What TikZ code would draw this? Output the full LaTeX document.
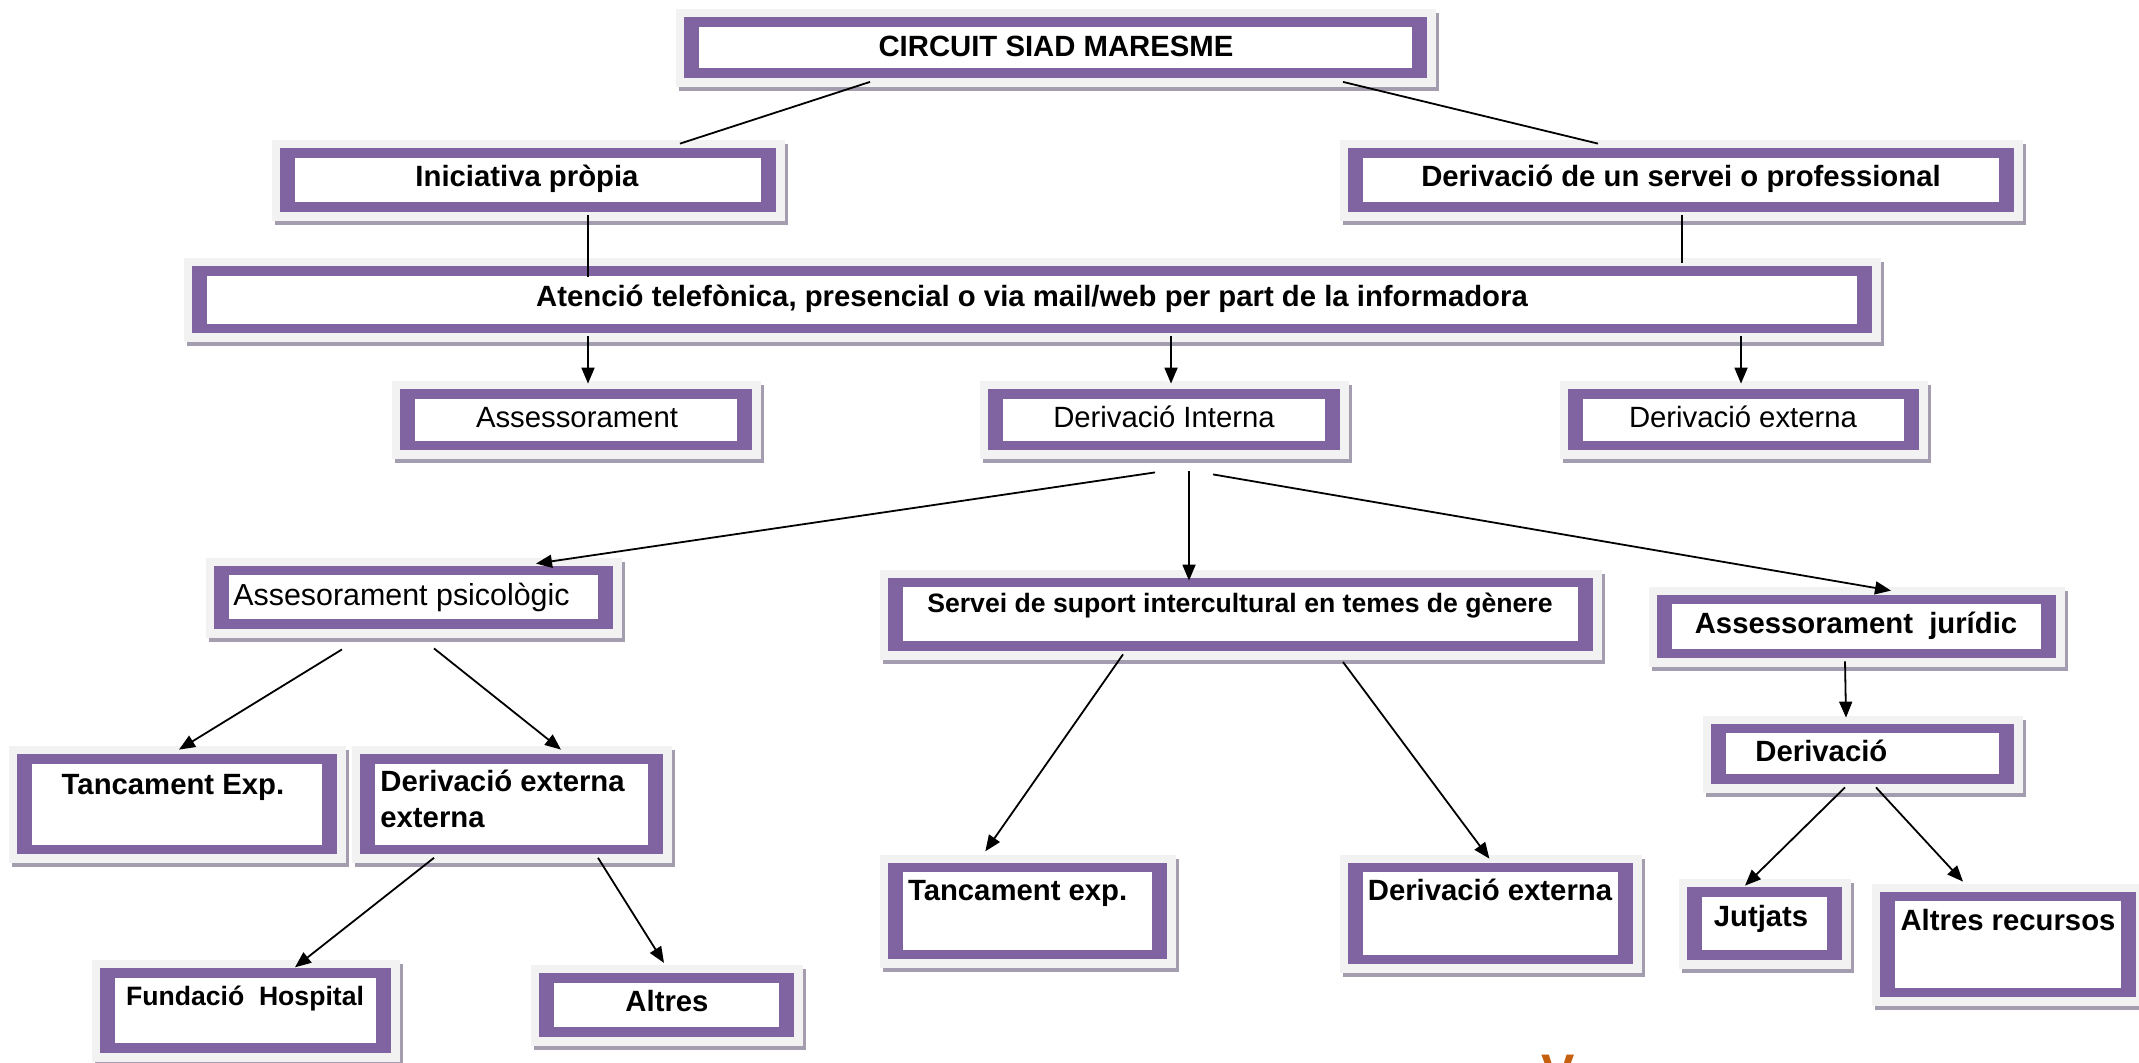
\documentclass[tikz,border=0pt]{standalone}
\usepackage{fontspec}
\setmainfont{Liberation Sans}
\usetikzlibrary{calc,fit,arrows.meta}
\definecolor{boxpurple}{HTML}{8064A2}
\definecolor{boxlight}{HTML}{F2F2F2}
\definecolor{boxshadow}{HTML}{A39DAF}
\definecolor{vorange}{HTML}{C4600F}
\newcommand\purplebox[5]{%
  \fill[boxshadow] ({#2-5},{#3-4}) rectangle ({#4+12},{#5+13});
  \fill[boxlight] ({#2-8},{#3-8}) rectangle ({#4+9},{#5+9});
  \fill[boxpurple] (#2,#3) rectangle (#4,#5);
  \fill[white] ({#2+15},{#3+9.5}) rectangle ({#4-15},{#5-9.5});
  \node[fit={(#2,#3) (#4,#5)}, inner sep=0pt] (#1) {};
}
\tikzset{
  lbl/.style={anchor=base, inner sep=0pt, font=\bfseries\fontsize{14.65}{17.6}\selectfont},
  lblr/.style={anchor=base, inner sep=0pt, font=\fontsize{14.65}{17.6}\selectfont},
  lbls/.style={anchor=base, inner sep=0pt, font=\bfseries\fontsize{13.3}{16}\selectfont},
  conn/.style={line width=0.9pt, black},
  arr/.style={conn, -{Triangle[length=8pt,width=6.5pt]}}
}
\begin{document}
\begin{tikzpicture}[x=0.5pt,y=-0.5pt]
\useasboundingbox (0,0) rectangle (2139,1062);
\clip (0,0) rectangle (2139,1062);
% boxes
\purplebox{circ}{684}{17}{1427}{77.5}
\purplebox{ini}{280}{148}{776}{211.5}
\purplebox{der}{1348}{148}{2014}{211.5}
\purplebox{aten}{192}{266}{1872}{333}
\purplebox{asse}{400}{389}{752}{450}
\purplebox{dint}{988}{389}{1340}{450}
\purplebox{dext}{1568}{389}{1919}{450}
\purplebox{psic}{214}{565.6}{613}{628.7}
\purplebox{serv}{888}{577.5}{1593}{650.5}
\purplebox{jur}{1657}{594.5}{2056}{658}
\purplebox{derj}{1711}{723.7}{2014}{783.8}
\purplebox{tanc1}{17}{754}{337}{854}
\purplebox{dee}{360}{754}{663}{854}
\purplebox{tanc2}{888}{862.5}{1166.6}{959}
\purplebox{dext2}{1348}{862.5}{1632.7}{964.4}
\purplebox{jut}{1687}{887}{1842}{959.6}
\purplebox{altr}{1880}{891.7}{2136}{997}
\purplebox{fund}{100}{968}{391}{1052.5}
\purplebox{alt}{539}{973}{794}{1036.6}
% texts
\node[lbl] (circ-t) at (1056,56.5) {CIRCUIT SIAD MARESME};
\node[lbl] (ini-t) at (527,186.5) {Iniciativa pròpia};
\node[lbl] (der-t) at (1681,186.5) {Derivació de un servei o professional};
\node[lbl] (aten-t) at (1032,306) {Atenció telefònica, presencial o via mail/web per part de la informadora};
\node[lblr] (asse-t) at (577,427.5) {Assessorament};
\node[lblr] (dint-t) at (1164,427.5) {Derivació Interna};
\node[lblr] (dext-t) at (1743,427.5) {Derivació externa};
\node[lblr, anchor=base west, font=\fontsize{15.2}{18}\selectfont] (psic-t) at (233,605.5) {Assesorament psicològic};
\node[lbls] (serv-t) at (1240,612.5) {Servei de suport intercultural en temes de gènere};
\node[lbl] (jur-t) at (1856,633.5) {Assessorament~~jurídic};
\node[lbl, anchor=base west] (derj-t) at (1755,761) {Derivació};
\node[lbl] (tanc1-t) at (173,794.5) {Tancament Exp.};
\node[lbl, anchor=base west] (dee-t1) at (380,791.5) {Derivació externa};
\node[lbl, anchor=base west] (dee-t2) at (380,827) {externa};
\node[lbl, anchor=base west] (tanc2-t) at (907.6,900.2) {Tancament exp.};
\node[lbl] (dext2-t) at (1490,900.2) {Derivació externa};
\node[lbl] (jut-t) at (1761,926.3) {Jutjats};
\node[lbl] (altr-t) at (2008,930.5) {Altres recursos};
\node[lbls] (fund-t) at (245,1005) {Fundació~~Hospital};
\node[lbl] (alt-t) at (667,1011) {Altres};
\node[anchor=base, inner sep=0pt, text=vorange, font=\bfseries\fontsize{25}{30}\selectfont] (vmark) at (1558,1089) {V};
% connectors
\draw[conn] ($(circ.south)+(-185.5,4)$) -- ($(ini.north)+(152,-4)$);
\draw[conn] ($(circ.south)+(287.5,4)$) -- ($(der.north)+(-83,-4)$);
\draw[conn] ($(ini.south)+(60,3.5)$) -- ($(aten.north)+(-444,11)$);
\draw[conn] ($(der.south)+(1,3.5)$) -- ($(aten.north)+(650,-2.5)$);
\draw[arr] ($(aten.south)+(-444,3)$) -- ($(asse.north)+(12,-5)$);
\draw[arr] ($(aten.south)+(139,3)$) -- ($(dint.north)+(7,-5)$);
\draw[arr] ($(aten.south)+(709,3)$) -- ($(dext.north)+(-2.5,-5)$);
\draw[arr] ($(dint.south)+(-9,22)$) -- ($(psic.north)+(122.5,-1.6)$);
\draw[arr] ($(dint.south)+(25,21)$) -- ($(serv.north)+(-51.5,3.5)$);
\draw[arr] ($(dint.south)+(49,24)$) -- ($(jur.north)+(34.5,-3.5)$);
\draw[arr] ($(psic.south)+(-71.5,20.3)$) -- ($(tanc1.north)+(2,-4)$);
\draw[arr] ($(psic.south)+(20.5,19.3)$) -- ($(dee.north)+(49.5,-4)$);
\draw[arr] ($(dee.south)+(-77.5,3.4)$) -- ($(fund.north)+(49.5,-0.3)$);
\draw[arr] ($(dee.south)+(86.5,3.4)$) -- ($(alt.north)+(-2.5,-9.7)$);
\draw[arr] ($(serv.south)+(-117.5,3.5)$) -- ($(tanc2.north)+(-42,-10.8)$);
\draw[arr] ($(serv.south)+(102.5,11.1)$) -- ($(dext2.north)+(-1,-3.5)$);
\draw[arr] ($(jur.south)+(-11.5,3)$) -- ($(derj.north)+(-16.5,-5.7)$);
\draw[arr] ($(derj.south)+(-17.5,3.2)$) -- ($(jut.north)+(-19.5,-1)$);
\draw[arr] ($(derj.south)+(13.5,3.2)$) -- ($(altr.north)+(-45,-9.7)$);
\end{tikzpicture}
\end{document}
